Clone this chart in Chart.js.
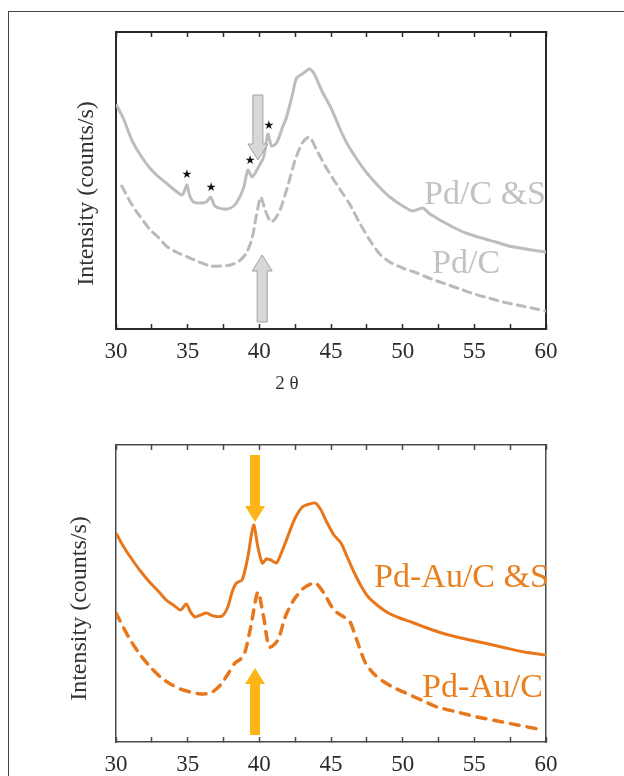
<!DOCTYPE html>
<html>
<head>
<meta charset="utf-8">
<script src="https://cdn.jsdelivr.net/npm/chart.js@4.4.1/dist/chart.umd.min.js"></script>
<style>
  html, body { margin: 0; padding: 0; background: #fff; overflow: hidden; }
  #frame { position: absolute; left: 8px; top: 11px; width: 700px; height: 800px;
           border-left: 1px solid #444; border-top: 1px solid #444; }
  canvas { position: absolute; left: 0; }
  #topChart { top: 0; }
  #bottomChart { top: 400px; }
</style>
</head>
<body>
<div id="frame"></div>
<canvas id="topChart" width="624" height="400"></canvas>
<canvas id="bottomChart" width="624" height="376"></canvas>
<script>
// 2-theta range and tick step (labels only on multiples of 5)
const xMin = 30, xMax = 60, xStep = 2.5;

// Pd/C &S (solid grey)
const pdcsX = [30.0, 30.5, 31.1, 31.7, 32.3, 32.9, 33.5, 34.0, 34.6, 34.8, 34.95, 35.15, 35.4, 35.9, 36.3, 36.6, 36.9, 37.5, 38.0, 38.4, 38.9, 39.2, 39.5, 39.9, 40.3, 40.6, 40.85, 41.2, 41.6, 41.9, 42.3, 42.6, 43.0, 43.5, 43.8, 44.4, 45.0, 45.6, 46.1, 46.8, 47.5, 48.3, 49.1, 49.9, 50.7, 51.4, 51.9, 52.6, 53.5, 54.4, 55.5, 56.5, 57.4, 58.2, 59.0, 60.0];
const pdcsY = [225, 211, 189, 174, 162, 153, 146, 140, 134, 139, 144, 133, 127, 126, 127, 132, 123, 120, 121, 126, 141, 159, 152, 161, 172, 195, 183, 186, 201, 212, 234, 251, 255, 260, 256, 237, 221, 201, 186, 170, 156, 143, 132, 124, 118, 121, 115, 109, 102, 96, 91, 87, 83, 81, 79, 77];

// Pd/C (dashed grey)
const pdcX = [30.4, 31.0, 31.6, 32.4, 33.0, 33.5, 34.2, 35.0, 35.8, 36.6, 37.3, 38.0, 38.6, 39.1, 39.5, 39.8, 40.1, 40.4, 40.8, 41.1, 41.5, 42.0, 42.5, 43.0, 43.5, 44.0, 44.6, 45.2, 45.8, 46.3, 47.0, 47.7, 48.4, 49.1, 50.0, 51.0, 52.0, 53.0, 54.0, 55.0, 56.0, 57.0, 58.0, 59.0, 60.0];
const pdcY = [143, 127, 114, 99, 91, 83, 77, 72, 67, 63, 63, 64, 68, 76, 91, 114, 132, 119, 107, 110, 121, 144, 169, 186, 192, 179, 163, 149, 136, 125, 106, 89, 75, 67, 61, 56, 50, 45, 40, 35, 31, 27, 24, 21, 18];

// Pd-Au/C &S (solid orange)
const pdaucsX = [30.0, 30.5, 31.0, 31.7, 32.4, 33.0, 33.5, 34.0, 34.5, 34.9, 35.2, 35.5, 35.9, 36.3, 36.8, 37.4, 37.8, 38.1, 38.4, 38.8, 39.2, 39.6, 39.9, 40.2, 40.5, 40.8, 41.2, 41.7, 42.1, 42.5, 43.0, 43.5, 43.9, 44.3, 44.7, 45.2, 45.7, 46.1, 46.6, 47.1, 47.6, 48.3, 49.0, 49.8, 50.6, 51.5, 52.5, 53.5, 54.7, 56.0, 57.2, 58.5, 60.0];
const pdaucsY = [209, 196, 185, 171, 159, 150, 142, 137, 132, 138, 130, 125, 127, 129, 126, 126, 135, 150, 159, 162, 185, 217, 195, 179, 183, 182, 179, 195, 210, 224, 235, 238, 239, 232, 220, 207, 199, 186, 170, 156, 145, 136, 129, 124, 120, 115, 110, 106, 102, 98, 94, 90, 87];

// Pd-Au/C (dashed orange)
const pdaucX = [30.0, 30.5, 31.0, 31.7, 32.4, 33.1, 33.8, 34.5, 35.2, 35.9, 36.6, 37.0, 37.4, 37.9, 38.3, 38.7, 39.0, 39.4, 39.9, 40.3, 40.7, 41.3, 41.8, 42.4, 43.1, 43.9, 44.5, 45.2, 45.8, 46.3, 46.8, 47.4, 48.0, 48.5, 49.3, 50.2, 51.3, 52.4, 53.8, 55.2, 56.6, 58.0, 59.8];
const pdaucY = [129, 115, 102, 87, 75, 65, 58, 53, 50, 48, 49, 53, 59, 70, 79, 83, 90, 115, 150, 125, 95, 102, 125, 142, 154, 159, 149, 132, 126, 121, 102, 79, 68, 62, 55, 49, 42, 35, 30, 25, 21, 17, 12];

// starred reflections on Pd/C &S, and arrow positions (2-theta, intensity)
const starX = [34.95, 36.63, 39.35, 40.67];
const starY = [154, 141, 168, 203];
const topArrows = [{ x: 39.9, from: 234, to: 169 }, { x: 40.2, from: 7, to: 74 }];
const bottomArrows = [{ x: 39.7, from: 287, to: 220 }, { x: 39.7, from: 7, to: 74 }];

const pts = (xs, ys) => xs.map((x, i) => ({ x, y: ys[i] }));
const serif = '"Liberation Serif", "Times New Roman", serif';

function drawArrow(ctx, cx, y0, tip, fill, stroke) {
  const dir = tip > y0 ? 1 : -1;
  const base = tip - dir * 16;
  ctx.beginPath();
  ctx.moveTo(cx - 5, y0);
  ctx.lineTo(cx + 5, y0);
  ctx.lineTo(cx + 5, base);
  ctx.lineTo(cx + 10, base);
  ctx.lineTo(cx, tip);
  ctx.lineTo(cx - 10, base);
  ctx.lineTo(cx - 5, base);
  ctx.closePath();
  ctx.fillStyle = fill;
  ctx.fill();
  if (stroke) { ctx.strokeStyle = stroke; ctx.lineWidth = 1; ctx.stroke(); }
}

// titles, curve labels, arrows and stars
const notes = {
  id: 'notes',
  afterDraw(chart, args, o) {
    const { ctx, chartArea: a, scales: { x, y } } = chart;
    ctx.save();
    ctx.fillStyle = '#333';
    ctx.font = '24px ' + serif;
    ctx.textAlign = 'center';
    ctx.textBaseline = 'middle';
    ctx.translate(a.left - o.yTitleDx, (a.top + a.bottom) / 2 + o.yTitleDy);
    ctx.rotate(-Math.PI / 2);
    ctx.fillText('Intensity (counts/s)', 0, 0);
    ctx.restore();

    ctx.save();
    if (o.xTitle) {
      ctx.fillStyle = '#333';
      ctx.font = '19px ' + serif;
      ctx.textAlign = 'center';
      ctx.textBaseline = 'middle';
      ctx.fillText(o.xTitle, a.left + 171, a.bottom + 55);
    }
    (o.arrows || []).forEach(ar => drawArrow(ctx, x.getPixelForValue(ar.x),
      y.getPixelForValue(ar.from), y.getPixelForValue(ar.to), o.arrowFill, o.arrowStroke));
    if (o.stars) {
      ctx.fillStyle = '#111';
      ctx.font = '12px "DejaVu Sans"';
      ctx.textAlign = 'center';
      ctx.textBaseline = 'middle';
      o.stars.x.forEach((sx, i) => ctx.fillText('★', x.getPixelForValue(sx), y.getPixelForValue(o.stars.y[i])));
    }
    ctx.font = '34px ' + serif;
    ctx.textBaseline = 'alphabetic';
    o.labels.forEach(l => {
      ctx.fillStyle = l.color;
      ctx.textAlign = l.align;
      ctx.fillText(l.text, x.getPixelForValue(l.x), y.getPixelForValue(l.y));
    });
    ctx.restore();
  }
};

function makeScales(box, axisColor, axisWidth) {
  const tickGrid = { drawOnChartArea: false, tickLength: -5, tickColor: axisColor, tickWidth: 1.5 };
  return {
    x: {
      type: 'linear', position: 'bottom', min: xMin, max: xMax,
      afterFit: s => { s.height = box.bottom; },
      border: { color: axisColor, width: axisWidth },
      grid: tickGrid,
      ticks: {
        stepSize: xStep, autoSkip: false, maxRotation: 0, padding: 14, color: '#2b2b2b',
        font: { family: serif, size: 23 },
        callback: v => (v % 5 === 0 ? String(v) : '')
      }
    },
    xTop: {
      type: 'linear', position: 'top', min: xMin, max: xMax,
      afterFit: s => { s.height = box.top; },
      border: { color: axisColor, width: axisWidth },
      grid: tickGrid,
      ticks: { stepSize: xStep, autoSkip: false, display: false }
    },
    y: {
      position: 'left', min: 0, max: 297,
      afterFit: s => { s.width = box.left; },
      border: { color: axisColor, width: axisWidth },
      grid: { display: false },
      ticks: { display: false }
    },
    y2: {
      position: 'right', min: 0, max: 297,
      afterFit: s => { s.width = box.right; },
      border: { color: axisColor, width: axisWidth },
      grid: { display: false },
      ticks: { display: false }
    }
  };
}

function lineSet(label, data, color, width, dash) {
  return {
    label, data, borderColor: color, borderWidth: width, borderDash: dash,
    borderCapStyle: dash.length ? 'round' : 'butt',
    pointRadius: 0, tension: 0.25, fill: false
  };
}

const common = {
  responsive: false,
  devicePixelRatio: 1,
  animation: false,
  layout: { padding: 0 }
};

new Chart(document.getElementById('topChart'), {
  type: 'line',
  data: {
    datasets: [
      lineSet('Pd/C &S', pts(pdcsX, pdcsY), '#bdbdbd', 3, []),
      lineSet('Pd/C', pts(pdcX, pdcY), '#bababa', 3, [8, 6])
    ]
  },
  options: {
    ...common,
    scales: makeScales({ left: 116, right: 78, top: 32, bottom: 71 }, '#2a2a2a', 2),
    plugins: {
      legend: { display: false },
      tooltip: { enabled: false },
      notes: {
        yTitleDx: 29, yTitleDy: 13, xTitle: '2 θ',
        arrows: topArrows, arrowFill: '#d8d8d8', arrowStroke: '#a0a0a0',
        stars: { x: starX, y: starY },
        labels: [
          { text: 'Pd/C &S', x: 60, y: 125, align: 'right', color: '#c2c2c2' },
          { text: 'Pd/C', x: 52.05, y: 56, align: 'left', color: '#c2c2c2' }
        ]
      }
    }
  },
  plugins: [notes]
});

new Chart(document.getElementById('bottomChart'), {
  type: 'line',
  data: {
    datasets: [
      lineSet('Pd-Au/C &S', pts(pdaucsX, pdaucsY), '#e8771c', 3, []),
      lineSet('Pd-Au/C', pts(pdaucX, pdaucY), '#e8771c', 3.5, [9, 8])
    ]
  },
  options: {
    ...common,
    scales: makeScales({ left: 116, right: 78, top: 45, bottom: 34 }, '#4a4a4a', 1.5),
    plugins: {
      legend: { display: false },
      tooltip: { enabled: false },
      notes: {
        yTitleDx: 36, yTitleDy: 15,
        arrows: bottomArrows, arrowFill: '#fdb515', arrowStroke: null,
        labels: [
          { text: 'Pd-Au/C &S', x: 60.2, y: 155, align: 'right', color: '#e8801f' },
          { text: 'Pd-Au/C', x: 51.35, y: 45, align: 'left', color: '#e8801f' }
        ]
      }
    }
  },
  plugins: [notes]
});
</script>
</body>
</html>
